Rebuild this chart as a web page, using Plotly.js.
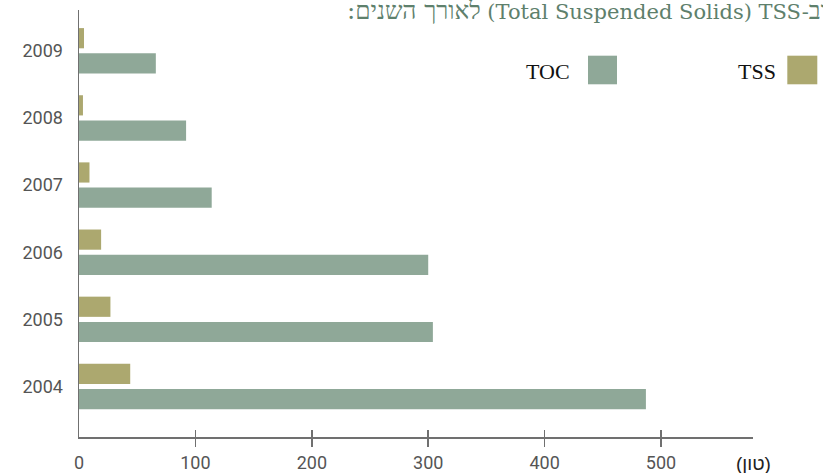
<!DOCTYPE html>
<html>
<head>
<meta charset="utf-8">
<script src="https://cdn.plot.ly/plotly-3.0.1.min.js"></script>
<style>html,body{margin:0;padding:0;background:#fff;}#chart{width:823px;height:473px;}</style>
</head>
<body>
<div id="chart"></div>
<script>
// Data
const years = ['2004', '2005', '2006', '2007', '2008', '2009'];
const tocValues = [487, 304, 300, 114, 92, 66];
const tssValues = [44, 27, 19, 9, 3.4, 4.3];
const xTickVals = [0, 100, 200, 300, 400, 500];
const xTickText = ['0', '100', '200', '300', '400', '500'];
const tickMarkVals = [100, 200, 300, 400, 500];
const seriesNames = ['TOC', 'TSS'];
// pieces written so that an LTR base direction shows them in the reference's visual order
const titleHebLeft = ':לאורך השנים';
const titleLatin = ' (Total Suspended Solids) TSS-';
const titleHebRight = 'וב';
const unitText = '(טון)';

const tocColor = '#8fa898';
const tssColor = '#aca86f';
const axisColor = '#707070';
const tickFont = {family: 'Roboto, "Liberation Sans", sans-serif', size: 18, color: '#555555'};

const hebSpan = s => '<span style="font-size:24.5px">' + s + '</span>';
const titleText = hebSpan(titleHebLeft) + titleLatin + hebSpan(titleHebRight);

const traces = [
  {type: 'bar', orientation: 'h', name: seriesNames[0], y: years, x: tocValues,
   marker: {color: tocColor}, hoverinfo: 'x+y'},
  {type: 'bar', orientation: 'h', name: seriesNames[1], y: years, x: tssValues,
   marker: {color: tssColor}, hoverinfo: 'x+y'},
  {type: 'scatter', x: [], y: [], xaxis: 'x2', showlegend: false},
  {type: 'scatter', x: [], y: [], xaxis: 'x3', showlegend: false}
];

const xr = [0, 579];
const layout = {
  width: 823, height: 473,
  margin: {l: 79, r: 70, t: 10, b: 36, pad: 0},
  paper_bgcolor: '#ffffff', plot_bgcolor: '#ffffff',
  showlegend: false,
  barmode: 'group', bargap: 0.248, bargroupgap: 0.2,
  xaxis: {range: xr, tickvals: xTickVals, ticktext: xTickText, ticks: '',
          showgrid: false, zeroline: false, showline: true, linecolor: axisColor, linewidth: 1.5,
          tickfont: tickFont, ticklabelstandoff: 9, fixedrange: true},
  xaxis2: {range: xr, overlaying: 'x', anchor: 'y', side: 'bottom', tickvals: tickMarkVals,
           ticks: 'outside', ticklen: 9, tickwidth: 1.5, tickcolor: axisColor,
           showticklabels: false, showgrid: false, zeroline: false, showline: false},
  xaxis3: {range: xr, overlaying: 'x', anchor: 'y', side: 'bottom', tickvals: tickMarkVals,
           ticks: 'inside', ticklen: 7, tickwidth: 1.5, tickcolor: axisColor,
           showticklabels: false, showgrid: false, zeroline: false, showline: false},
  yaxis: {type: 'category', categoryorder: 'array', categoryarray: years,
          range: [-0.752, 5.608], ticks: '', showgrid: false, zeroline: false,
          showline: true, linecolor: axisColor, linewidth: 1.5,
          tickfont: tickFont, ticklabelstandoff: 11, fixedrange: true},
  annotations: [
    {xref: 'paper', yref: 'paper', x: 0.3947, y: 0.9977, xanchor: 'left', yanchor: 'middle',
     text: titleText, showarrow: false,
     font: {family: '"DejaVu Serif", "Liberation Serif", serif', size: 21, color: '#5e806c'}},
    {xref: 'paper', yref: 'paper', x: 0.7315, y: 0.857, xanchor: 'right', yanchor: 'middle',
     text: seriesNames[0], showarrow: false,
     font: {family: '"Liberation Serif", serif', size: 22, color: '#111111'}},
    {xref: 'paper', yref: 'paper', x: 1.037, y: 0.857, xanchor: 'right', yanchor: 'middle',
     text: seriesNames[1], showarrow: false,
     font: {family: '"Liberation Serif", serif', size: 22, color: '#111111'}},
    {xref: 'paper', yref: 'paper', x: 1.0, y: -0.0609, xanchor: 'center', yanchor: 'middle',
     text: unitText, showarrow: false,
     font: {family: '"Liberation Sans", "DejaVu Sans", sans-serif', size: 19, color: '#222222'}}
  ],
  shapes: [
    {type: 'rect', xref: 'paper', yref: 'paper', x0: 0.7552, x1: 0.7982, y0: 0.826, y1: 0.893,
     fillcolor: tocColor, line: {width: 0}},
    {type: 'rect', xref: 'paper', yref: 'paper', x0: 1.0509, x1: 1.0954, y0: 0.826, y1: 0.893,
     fillcolor: tssColor, line: {width: 0}}
  ]
};

Plotly.newPlot('chart', traces, layout, {displayModeBar: false, staticPlot: true});
</script>
</body>
</html>
